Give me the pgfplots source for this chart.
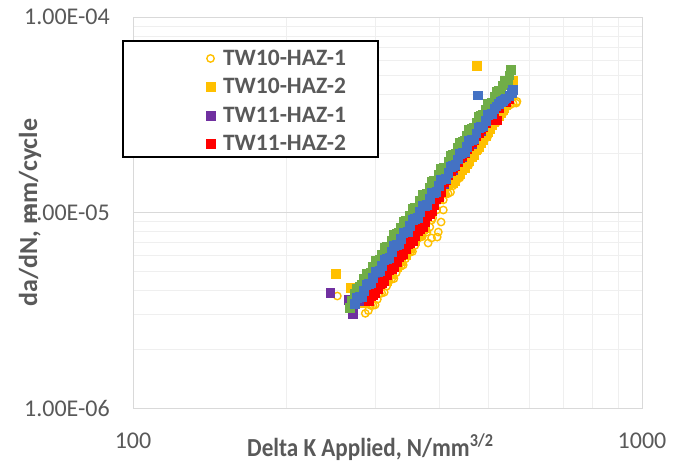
\documentclass[border=0pt]{standalone}
\usepackage{pgfplots}
\pgfplotsset{compat=1.18}
\usepackage{fontspec}
\setmainfont{Carlito}
\usetikzlibrary{calc}
\definecolor{txtgray}{HTML}{595959}
\definecolor{gridmaj}{HTML}{D9D9D9}
\definecolor{gridmin}{HTML}{EFEFEF}
\definecolor{cOrange}{HTML}{FFC000}
\definecolor{cPurple}{HTML}{7030A0}
\definecolor{cRed}{HTML}{FF0000}
\definecolor{cGreen}{HTML}{70AD47}
\definecolor{cBlue}{HTML}{4472C4}
\pgfplotsset{
  sq/.style={only marks, mark=square*, mark size=4.4pt, mark options={draw=#1, fill=#1, line width=0.2pt}},
  circ/.style={only marks, mark=o, mark size=3.7pt, mark options={draw=#1, line width=1.4pt}},
}
\begin{document}
\begin{tikzpicture}
\useasboundingbox (0,0) rectangle (677pt,463pt);
\begin{axis}[
  at={(133pt,55pt)}, anchor=south west,
  width=509pt, height=391pt, scale only axis,
  xmode=log, ymode=log,
  xmin=100, xmax=1000, ymin=1e-6, ymax=1e-4,
  xtick={100,1000}, xticklabels={100,1000},
  ytick={1e-6,1e-5,1e-4}, yticklabels={1.00E-06,1.00E-05,1.00E-04},
  minor xtick={200,300,400,500,600,700,800,900},
  minor ytick={2e-6,3e-6,4e-6,5e-6,6e-6,7e-6,8e-6,9e-6,2e-5,3e-5,4e-5,5e-5,6e-5,7e-5,8e-5,9e-5},
  grid=both,
  major grid style={draw=gridmaj, line width=0.9pt},
  minor grid style={draw=gridmin, line width=0.9pt},
  axis line style={draw=gridmaj, line width=1pt},
  major tick length=0pt, minor tick length=0pt,
  tick style={draw=none},
  /pgf/number format/assume math mode=true,
  ticklabel style={font=\fontsize{24}{28}\selectfont, text=txtgray},
  yticklabel style={anchor=east, inner sep=0pt, xshift=-23pt},
  xticklabel style={anchor=base, inner sep=0pt, yshift=-40pt},
  xlabel={Delta K Applied, N/mm\textsuperscript{3/2}},
  ylabel={da/dN, mm/cycle},
  xlabel style={at={(rel axis cs:0,0)}, anchor=base west, xshift=114pt, yshift=-48pt, inner sep=0pt, xscale=0.89, font=\bfseries\fontsize{26}{30}\selectfont, text=txtgray},
  ylabel style={at={($(rel axis cs:0,0.5)+(-96pt,0pt)$)}, anchor=base, inner sep=0pt, font=\bfseries\fontsize{26}{30}\selectfont, text=txtgray},
  legend style={at={(rel axis cs:0,1)}, anchor=north west, xshift=72.5pt, yshift=-33pt, draw=none, fill=none, inner sep=0pt, outer sep=0pt, column sep=7.5pt, row sep=11.5pt, font=\bfseries\fontsize{23.5}{28}\selectfont, text=txtgray, nodes={inner sep=0pt}},
  legend cell align=left,
  legend image code/.code={\path[draw=none,fill=none] (-5pt,-5pt) rectangle (5pt,5pt); \draw[#1] plot coordinates {(0pt,0pt)};},
  clip=false,
]
% TW10-HAZ-1
\addplot[circ=cOrange] coordinates {
(252,3.74e-6) (286,3.05e-6) (290,3.15e-6) (293,3.35e-6) (296,3.35e-6) (299,3.37e-6) (302,3.60e-6) (305,3.85e-6) (308,3.87e-6)
(311.5,3.91e-6) (315,4.20e-6) (318.5,4.51e-6) (322,4.55e-6) (325.5,4.59e-6) (329,4.92e-6) (332.5,5.27e-6) (336,5.31e-6)
(339.5,5.39e-6) (343,5.80e-6) (346.5,6.21e-6) (350,6.25e-6) (354,6.32e-6)
(358,6.79e-6) (362,7.34e-6) (366,7.46e-6) (370,7.53e-6) (374,8.07e-6)
(378,7.95e-6) (380,6.98e-6) (383,8.43e-6) (386,7.41e-6) (388,9.37e-6) (386,9.15e-6)
(396,7.49e-6) (398,7.95e-6) (403,8.94e-6) (395,1.03e-5) (401,1.16e-5) (407,1.03e-5)
(407,1.16e-5) (411.5,1.241e-5) (416,1.25e-5) (420.5,1.271e-5) (425,1.37e-5) (429.5,1.468e-5) (434,1.48e-5)
(438.5,1.504e-5) (443,1.62e-5) (447.5,1.730e-5) (452,1.74e-5) (457,1.756e-5)
(462,1.88e-5) (467,2.019e-5) (472,2.04e-5) (477,2.071e-5) (482,2.23e-5) (487,2.384e-5) (492,2.40e-5)
(497,2.430e-5) (502,2.61e-5) (507,2.807e-5) (512,2.84e-5) (517,2.876e-5)
(522,3.09e-5) (527,3.29e-5) (532,3.30e-5) (536,3.27e-5) (540,3.45e-5) (545,3.50e-5) (550,3.55e-5)
(558,3.62e-5) (566,3.63e-5) (568,3.70e-5)
};
\addlegendentry{TW10-HAZ-1}
% TW10-HAZ-2
\addplot[sq=cOrange] coordinates {
(250,4.85e-6) (267,4.12e-6) (284,3.44e-6) (290,3.71e-6) (296,4.00e-6) (302,4.30e-6)
(308,4.62e-6) (315,4.49e-6) (322,4.87e-6) (329,5.26e-6) (336,5.68e-6) (343,6.12e-6)
(350,6.59e-6) (358,7.16e-6) (366,7.76e-6) (374,8.39e-6) (382,1.013e-5) (390,1.092e-5)
(398,1.176e-5) (407,1.276e-5) (416,1.382e-5) (425,1.425e-5) (429.5,1.463e-5) (434,1.538e-5)
(438.5,1.578e-5) (443,1.657e-5) (447.5,1.699e-5) (452,1.784e-5) (457,1.834e-5) (462,1.932e-5)
(467,1.985e-5) (472,2.089e-5) (477,2.171e-5) (482,2.283e-5) (487,2.370e-5) (492,2.459e-5)
(497,2.582e-5) (502,2.679e-5) (507,2.80e-5) (512,2.90e-5) (517,3.01e-5) (522,3.12e-5)
(527,3.24e-5) (532,3.35e-5) (536,3.45e-5) (540,3.55e-5) (548,3.95e-5) (553,4.35e-5)
(557,4.75e-5) (474,5.62e-5)
};
\addlegendentry{TW10-HAZ-2}
% TW11-HAZ-1
\addplot[sq=cPurple] coordinates {
(244,3.88e-6) (265,3.57e-6) (270,3.03e-6) (278,3.52e-6) (290,4.09e-6) (302,4.75e-6)
(315,5.54e-6) (329,6.49e-6) (343,7.55e-6) (358,8.84e-6) (374,1.036e-5) (390,1.207e-5)
(407,1.41e-5) (425,1.65e-5) (443,1.92e-5) (462,2.24e-5) (482,2.61e-5) (502,3.03e-5)
(522,3.45e-5) (540,3.70e-5)
};
\addlegendentry{TW11-HAZ-1}
% TW11-HAZ-2
\addplot[sq=cRed] coordinates {
(290,3.53e-6) (293,3.74e-6) (296,3.81e-6) (299,3.88e-6) (302,4.10e-6) (305,4.34e-6) (308,4.40e-6)
(311.5,4.50e-6) (315,4.78e-6) (318.5,5.08e-6) (322,5.18e-6) (325.5,5.28e-6)
(329,5.60e-6) (332.5,5.94e-6) (336,6.05e-6) (339.5,6.16e-6) (343,6.52e-6) (346.5,6.91e-6) (350,7.02e-6)
(354,7.18e-6) (358,7.63e-6) (362,8.11e-6) (366,8.27e-6) (370,8.43e-6)
(374,8.94e-6) (378,9.61e-6) (382,9.90e-6) (386,1.020e-5) (390,1.092e-5) (394,1.171e-5) (398,1.204e-5)
(402.5,1.280e-5) (407,1.44e-5) (411.5,1.47e-5) (416,1.56e-5) (420.5,1.63e-5)
(425,1.69e-5) (429.5,1.74e-5) (434,1.82e-5) (438.5,1.90e-5) (443,1.96e-5) (447.5,2.03e-5) (452,2.11e-5)
(457,2.20e-5) (462,2.29e-5) (467,2.36e-5) (472,2.47e-5) (477,2.56e-5)
(482,2.67e-5) (487,2.74e-5) (492,2.87e-5) (497,2.98e-5) (502,3.09e-5) (507,3.15e-5) (512,3.30e-5)
(519,2.97e-5) (522,3.45e-5) (533,3.76e-5) (540,3.70e-5) (548,3.80e-5)
};
\addlegendentry{TW11-HAZ-2}
% green series
\addplot[sq=cGreen, forget plot] coordinates {
(266,3.25e-6) (269,3.55e-6) (272,3.85e-6) (275,4.10e-6) (278,4.20e-6) (281,4.30e-6) (284,4.60e-6)
(287,4.85e-6) (290,4.90e-6) (293,4.95e-6) (296,5.30e-6) (299,5.70e-6)
(302,5.70e-6) (305,5.72e-6) (308,6.10e-6) (311.5,6.59e-6) (315,6.70e-6) (318.5,6.74e-6)
(322,7.20e-6) (325.5,7.73e-6) (329,7.80e-6) (332.5,7.86e-6) (336,8.40e-6) (339.5,9.01e-6)
(343,9.10e-6) (346.5,9.12e-6) (350,9.70e-6) (354,1.045e-5) (358,1.06e-5) (362,1.067e-5)
(366,1.15e-5) (370,1.231e-5) (374,1.24e-5) (378,1.251e-5) (382,1.34e-5) (386,1.437e-5)
(390,1.45e-5) (394,1.460e-5) (398,1.56e-5) (402.5,1.674e-5) (407,1.69e-5) (411.5,1.707e-5)
(416,1.83e-5) (420.5,1.962e-5) (425,1.98e-5) (429.5,1.998e-5) (434,2.14e-5) (438.5,2.287e-5)
(443,2.30e-5) (447.5,2.328e-5) (452,2.48e-5) (457,2.664e-5) (462,2.69e-5) (467,2.711e-5)
(472,2.90e-5) (477,3.105e-5) (482,3.13e-5) (487,3.154e-5) (492,3.38e-5) (497,3.615e-5)
(502,3.63e-5) (507,3.656e-5) (512,3.91e-5) (517,4.17e-5) (522,4.19e-5) (527,4.21e-5)
(532,4.49e-5) (536,4.76e-5) (540,4.75e-5) (544,4.75e-5) (548,5.05e-5) (551,5.36e-5)
};
% blue series
\addplot[sq=cBlue, forget plot] coordinates {
(272,3.42e-6) (275,3.66e-6) (278,3.70e-6) (281,3.73e-6) (284,4.00e-6) (287,4.28e-6) (290,4.31e-6)
(293,4.35e-6) (296,4.65e-6) (299,4.97e-6) (302,5.00e-6) (305,5.03e-6)
(308,5.37e-6) (311.5,5.77e-6) (315,5.83e-6) (318.5,5.89e-6) (322,6.32e-6) (325.5,6.77e-6)
(329,6.83e-6) (332.5,6.89e-6) (336,7.38e-6) (339.5,7.89e-6) (343,7.95e-6) (346.5,8.00e-6)
(350,8.56e-6) (354,9.19e-6) (358,9.30e-6) (362,9.39e-6) (366,1.008e-5) (370,1.080e-5)
(374,1.090e-5) (378,1.100e-5) (382,1.178e-5) (386,1.261e-5) (390,1.270e-5) (394,1.278e-5)
(398,1.368e-5) (402.5,1.468e-5) (407,1.484e-5) (411.5,1.498e-5) (416,1.607e-5) (420.5,1.722e-5)
(425,1.738e-5) (429.5,1.752e-5) (434,1.876e-5) (438.5,2.006e-5) (443,2.021e-5) (447.5,2.035e-5)
(452,2.176e-5) (457,2.332e-5) (462,2.356e-5) (467,2.377e-5) (472,2.547e-5) (477,2.727e-5)
(482,2.750e-5) (487,2.769e-5) (492,2.963e-5) (497,3.166e-5) (502,3.189e-5) (507,3.196e-5)
(512,3.40e-5) (517,3.50e-5) (522,3.60e-5) (527,3.68e-5) (532,3.75e-5) (536,3.80e-5)
(540,3.85e-5) (548,3.95e-5) (554,4.10e-5) (556,4.25e-5) (476,3.99e-5)
};
\draw[black, line width=1.5pt, fill=white] ([xshift=-10pt,yshift=-24pt]rel axis cs:0,1) rectangle ([xshift=245pt,yshift=-140pt]rel axis cs:0,1);
\end{axis}
\end{tikzpicture}
\end{document}
